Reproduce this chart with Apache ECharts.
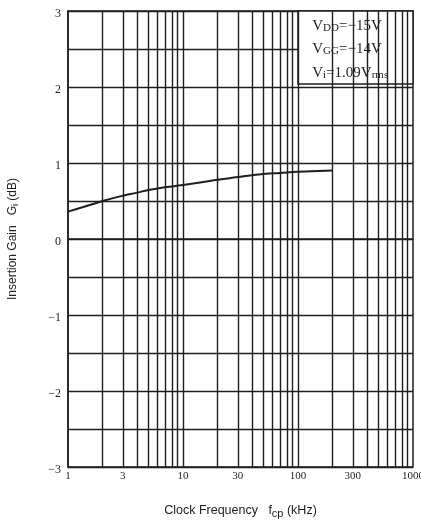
<!DOCTYPE html>
<html>
<head>
<meta charset="utf-8">
<script src="https://cdn.jsdelivr.net/npm/echarts@6/dist/echarts.min.js"></script>
<style>
  html, body { margin: 0; padding: 0; background: #fff; }
  #chart { width: 421px; height: 522px; }
</style>
</head>
<body>
<div id="chart"></div>
<script>
// Insertion gain vs clock frequency
const freqKHz = [1, 1.5, 2, 3, 4, 5, 7, 10, 15, 20, 30, 40, 50, 70, 100, 150, 200];
const gainDb  = [0.36, 0.44, 0.50, 0.57, 0.61, 0.645, 0.68, 0.71, 0.75, 0.78, 0.815, 0.84, 0.855, 0.87, 0.885, 0.895, 0.90];

// log-paper vertical rulings (2..9 per decade)
const rulings = [2, 3, 4, 5, 6, 7, 8, 9, 10, 20, 30, 40, 50, 60, 70, 80, 90, 100,
                 200, 300, 400, 500, 600, 700, 800, 900];
const xTickLabels = [1, 3, 10, 30, 100, 300, 1000];
const yTickLabels = [-3, -2, -1, 0, 1, 2, 3];

const ink = '#1e1e1e';
const serif = 'Liberation Serif';
const sans = 'Liberation Sans';

const chart = echarts.init(document.getElementById('chart'));
chart.setOption({
  backgroundColor: '#fff',
  animation: false,
  grid: {
    left: 68, right: 8, top: 11, bottom: 55,
    outerBoundsMode: 'none', containLabel: false,
    show: true, borderColor: ink, borderWidth: 1.5, backgroundColor: 'transparent'
  },
  xAxis: {
    type: 'log', logBase: 10, min: 1, max: 1000,
    name: '{t|Clock Frequency   f}{s|cp}{t| (kHz)}',
    nameLocation: 'middle', nameGap: 36,
    nameTextStyle: {
      rich: {
        t: { fontFamily: sans, fontSize: 12.5, color: ink },
        s: { fontFamily: sans, fontSize: 11, color: ink, padding: [5, 0, 0, 0] }
      }
    },
    axisLine: { show: true, lineStyle: { color: ink, width: 1.5 } },
    axisTick: { show: false },
    splitLine: { show: false },
    axisLabel: {
      customValues: xTickLabels,
      formatter: v => String(v),
      fontFamily: serif, fontSize: 11, color: ink, margin: 4
    }
  },
  yAxis: {
    type: 'value', min: -3, max: 3, interval: 0.5,
    axisLine: { show: true, lineStyle: { color: ink, width: 1.5 } },
    axisTick: { show: false },
    splitLine: { show: true, lineStyle: { color: ink, width: 1.4 } },
    axisLabel: {
      customValues: yTickLabels,
      formatter: v => '{n|' + (v < 0 ? '\u2212' + Math.abs(v) : String(v)) + '}',
      color: ink, margin: 7,
      rich: {
        n: { fontFamily: serif, fontSize: 12, color: ink, padding: [5, 0, 0, 0] }
      }
    }
  },
  graphic: [{
    type: 'text',
    x: 13, y: 239, rotation: Math.PI / 2,
    style: {
      text: '{t|Insertion Gain   G}{s|i}{t| (dB)}',
      align: 'center', verticalAlign: 'middle',
      fill: ink,
      rich: {
        t: { fontFamily: sans, fontSize: 12, fill: ink },
        s: { fontFamily: sans, fontSize: 9, fill: ink, padding: [5, 0, 0, 0] }
      }
    }
  }],
  series: [
    {
      // vertical rulings
      type: 'line', data: [], z: 1, silent: true,
      markLine: {
        symbol: 'none', silent: true, animation: false,
        label: { show: false },
        lineStyle: { color: ink, width: 1.4, type: 'solid' },
        data: rulings.map(f => ({ xAxis: f }))
      }
    },
    {
      // condition box
      type: 'line', data: [], z: 3, silent: true,
      markArea: {
        silent: true,
        itemStyle: { color: '#fff', borderColor: ink, borderWidth: 1.5, opacity: 1 },
        label: {
          show: true, position: 'insideTopLeft', offset: [10, -1],
          formatter: [
            '{v|V}{s|DD}{v|=\u221215V}',
            '{v|V}{s|GG}{v|=\u221214V}',
            '{v|V}{s|i}{v|=1.09V}{s|rms}'
          ].join('\n'),
          rich: {
            v: { fontFamily: serif, fontSize: 15, color: ink, lineHeight: 23.5 },
            s: { fontFamily: serif, fontSize: 11, color: ink, lineHeight: 23.5, padding: [4, 0, 0, 0] }
          }
        },
        data: [[{ coord: [100, 2.04] }, { coord: [1000, 3] }]]
      }
    },
    {
      type: 'line', z: 5,
      data: freqKHz.map((f, i) => [f, gainDb[i]]),
      smooth: true, showSymbol: false,
      lineStyle: { color: ink, width: 2 }
    }
  ]
});
</script>
</body>
</html>
